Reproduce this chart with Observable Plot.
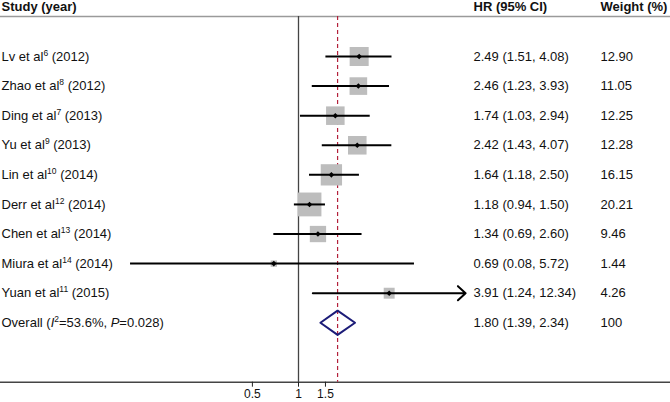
<!DOCTYPE html>
<html>
<head>
<meta charset="utf-8">
<script src="https://cdn.jsdelivr.net/npm/d3@7"></script>
<script src="https://cdn.jsdelivr.net/npm/@observablehq/plot@0.6"></script>
<style>
  html, body { margin: 0; padding: 0; background: #fff; }
  #chart svg { display: block; }
</style>
</head>
<body>
<div id="chart"></div>
<script>
// ---- data ----
const studies = ["Lv et al", "Zhao et al", "Ding et al", "Yu et al", "Lin et al", "Derr et al", "Chen et al", "Miura et al", "Yuan et al"];
const refs = ["6", "8", "7", "9", "10", "12", "13", "14", "11"];
const years = [2012, 2012, 2013, 2013, 2014, 2014, 2014, 2014, 2015];
const hr = [2.49, 2.46, 1.74, 2.42, 1.64, 1.18, 1.34, 0.69, 3.91];
const lower = [1.51, 1.23, 1.03, 1.43, 1.18, 0.94, 0.69, 0.08, 1.24];
const upper = [4.08, 3.93, 2.94, 4.07, 2.50, 1.50, 2.60, 5.72, 12.34];
const weights = [12.90, 11.05, 12.25, 12.28, 16.15, 20.21, 9.46, 1.44, 4.26];
const overall = { hr: 1.80, lower: 1.39, upper: 2.34, i2: "53.6%", p: "0.028", weight: "100" };
const xTicks = [0.5, 1, 1.5];
const headers = ["Study (year)", "HR (95% CI)", "Weight (%)"];
const clipAt = 10; // CIs beyond this are drawn with an arrowhead

// ---- derived tables ----
const fmt = v => v.toFixed(2);
const rows = studies.map((s, i) => ({
  i, study: s, ref: refs[i], year: years[i],
  hr: hr[i], lower: lower[i], upper: upper[i], weight: weights[i],
  label: `${s}${refs[i]} (${years[i]})`,
  ci: `${fmt(hr[i])} (${fmt(lower[i])}, ${fmt(upper[i])})`,
  w: fmt(weights[i])
}));
const oRow = {
  i: studies.length, hr: overall.hr, lower: overall.lower, upper: overall.upper,
  label: `Overall (I2=${overall.i2}, P=${overall.p})`,
  ci: `${fmt(overall.hr)} (${fmt(overall.lower)}, ${fmt(overall.upper)})`,
  w: overall.weight
};
const allRows = [...rows, oRow];
const plainCI = rows.filter(d => d.upper <= clipAt);
const arrowCI = rows.filter(d => d.upper > clipAt);
const dh = 0.41; // diamond half height in row units
const diamond = [
  { x: oRow.lower, y: oRow.i },
  { x: oRow.hr, y: oRow.i - dh },
  { x: oRow.upper, y: oRow.i },
  { x: oRow.hr, y: oRow.i + dh }
];

const font = "'Liberation Sans', Arial, Helvetica, sans-serif";
const k = 66.5, x1px = 298;

const svg = Plot.plot({
  width: 670,
  height: 402,
  marginTop: 16,
  marginBottom: 20.3,
  marginLeft: 0,
  marginRight: 0,
  style: { fontFamily: font, background: "#fff", color: "#000" },
  x: { type: "log", domain: [0.01, 100], range: [x1px + k * Math.log(0.01), x1px + k * Math.log(100)], axis: null },
  y: { domain: [0, 9], range: [56, 322.3], axis: null },
  r: { type: "sqrt", domain: [0, 25], range: [0, 26.5 / Math.sqrt(Math.PI)] },
  marks: [
    Plot.frame({ anchor: "top", stroke: "#9a9a9a", strokeWidth: 1.5 }),
    Plot.frame({ anchor: "bottom", stroke: "#444", strokeWidth: 1.5 }),
    Plot.ruleX([1], { stroke: "#444", strokeWidth: 1.3 }),
    Plot.ruleX([overall.hr], { stroke: "#b3203a", strokeWidth: 1.2, strokeDasharray: "4,3" }),
    Plot.dot(rows, { x: "hr", y: "i", r: "weight", symbol: "square", fill: "#bdbdbd", stroke: "none" }),
    Plot.ruleY(plainCI, { y: "i", x1: "lower", x2: "upper", stroke: "#000", strokeWidth: 2 }),
    Plot.arrow(arrowCI, { x1: "lower", x2: "upper", y1: "i", y2: "i", stroke: "#000", strokeWidth: 2, headAngle: 85, headLength: 7.8 }),
    Plot.dot(rows, { x: "hr", y: "i", r: 2.5, symbol: "diamond2", fill: "#000", stroke: "none" }),
    Plot.line(diamond, { x: "x", y: "y", curve: "linear-closed", stroke: "#1c1c78", strokeWidth: 2, fill: "none" }),
    Plot.text(allRows, { y: "i", text: "label", frameAnchor: "left", dx: 1, textAnchor: "start", fontSize: 13, fill: "#111" }),
    Plot.text(allRows, { y: "i", text: "ci", frameAnchor: "left", dx: 473, textAnchor: "start", fontSize: 13, fill: "#111" }),
    Plot.text(allRows, { y: "i", text: "w", frameAnchor: "left", dx: 600, textAnchor: "start", fontSize: 13, fill: "#111" }),
    Plot.text([headers[0]], { frameAnchor: "top-left", dx: 1, dy: -9.2, lineAnchor: "middle", textAnchor: "start", fontSize: 13, fontWeight: "bold", fill: "#111" }),
    Plot.text([headers[1]], { frameAnchor: "top-left", dx: 473, dy: -9.2, lineAnchor: "middle", textAnchor: "start", fontSize: 13, fontWeight: "bold", fill: "#111" }),
    Plot.text([headers[2]], { frameAnchor: "top-left", dx: 600, dy: -9.2, lineAnchor: "middle", textAnchor: "start", fontSize: 13, fontWeight: "bold", fill: "#111" }),
    Plot.axisX({ ticks: xTicks, anchor: "bottom", tickSize: 5, text: null, label: null, stroke: "#222" }),
    Plot.text(xTicks, { x: d => d, text: d => String(d), frameAnchor: "bottom", lineAnchor: "top", dy: 7, fontSize: 12, fill: "#111" })
  ]
});

// rich text: superscripts and italics in the study column
const partsByLabel = new Map(allRows.map(d => [d.label, d.i < studies.length
  ? [{ t: d.study }, { t: d.ref, sup: true }, { t: ` (${d.year})` }]
  : [{ t: "Overall (" }, { t: "I", it: true }, { t: "2", sup: true }, { t: `=${overall.i2}, ` }, { t: "P", it: true }, { t: `=${overall.p})` }]]));
d3.select(svg).selectAll("text").each(function () {
  const parts = partsByLabel.get(this.textContent);
  if (!parts) return;
  const el = d3.select(this);
  el.text(null);
  let shift = 0;
  for (const p of parts) {
    const ts = el.append("tspan").text(p.t);
    const target = p.sup ? -5 : 0;
    if (target !== shift) { ts.attr("dy", target - shift); shift = target; }
    if (p.sup) ts.attr("font-size", 8.5);
    if (p.it) ts.attr("font-style", "italic");
  }
});

document.getElementById("chart").appendChild(svg);
</script>
</body>
</html>
